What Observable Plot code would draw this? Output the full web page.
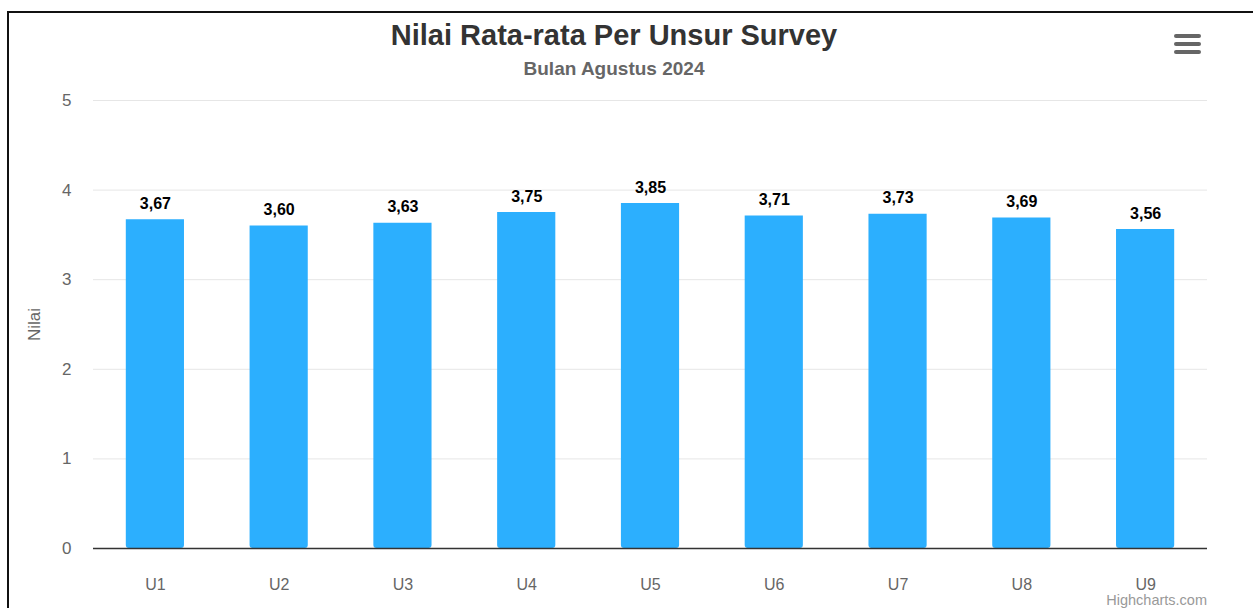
<!DOCTYPE html>
<html>
<head>
<meta charset="utf-8">
<script src="https://cdn.jsdelivr.net/npm/d3@7"></script>
<script src="https://cdn.jsdelivr.net/npm/@observablehq/plot@0.6"></script>
<style>
  html, body { margin: 0; padding: 0; background: #fff; }
  body { font-family: "Liberation Sans", Arial, Helvetica, sans-serif; }
  #wrap { position: relative; width: 1253px; height: 608px; overflow: hidden; background: #fff; }
  #frame { position: absolute; left: 7px; top: 11px; width: 1300px; height: 700px;
           border-left: 2px solid #111; border-top: 2px solid #111; }
  #header { position: relative; height: 88px; }
  #title { position: absolute; left: 0; width: 1228px; top: 21px; text-align: center;
           font-size: 29px; line-height: 29px; font-weight: bold; color: #333; white-space: nowrap; }
  #subtitle { position: absolute; left: 0; width: 1228px; top: 59px; text-align: center;
              font-size: 19px; line-height: 19px; font-weight: bold; color: #666; white-space: nowrap; }
  .menu { position: absolute; left: 1174px; width: 27px; height: 4px; border-radius: 2px; background: #666; }
  #credit { position: absolute; right: 46px; top: 592px; font-size: 14.5px; line-height: 17px; color: #999; white-space: nowrap; }
  #chart { position: absolute; left: 0; top: 88px; }
</style>
</head>
<body>
<div id="wrap">
  <div id="frame"></div>
  <div id="header">
    <div id="title">Nilai Rata-rata Per Unsur Survey</div>
    <div id="subtitle">Bulan Agustus 2024</div>
  </div>
  <div class="menu" style="top:34px"></div>
  <div class="menu" style="top:42px"></div>
  <div class="menu" style="top:50px"></div>
  <div id="chart"></div>
  <div id="credit">Highcharts.com</div>
</div>
<script>
const categories = ["U1", "U2", "U3", "U4", "U5", "U6", "U7", "U8", "U9"];
const values = [3.67, 3.60, 3.63, 3.75, 3.85, 3.71, 3.73, 3.69, 3.56];
const yTicks = [0, 1, 2, 3, 4, 5];
const gridTicks = [1, 2, 3, 4, 5];
const yLabel = "Nilai";

const data = categories.map((c, i) => ({unsur: c, nilai: values[i]}));
const fmt = v => d3.format(".2f")(v).replace(".", ",");

const chart = Plot.plot({
  width: 1253,
  height: 520,
  marginTop: 12,
  marginBottom: 60,
  marginLeft: 93,
  marginRight: 46,
  style: {
    fontFamily: '"Liberation Sans", Arial, Helvetica, sans-serif',
    fontSize: "16px",
    color: "#666",
    background: "transparent",
    overflow: "visible"
  },
  x: {domain: categories, paddingInner: 0.53, paddingOuter: 0.265, round: false},
  y: {domain: [0, 5]},
  marks: [
    Plot.ruleY(gridTicks, {stroke: "#e6e6e6", strokeWidth: 1}),
    Plot.barY(data, {x: "unsur", y: "nilai", fill: "#2caffe", ry2: 3}),
    Plot.ruleY([0], {stroke: "#333", strokeWidth: 1.3}),
    Plot.text(data, {
      x: "unsur", y: "nilai", text: d => fmt(d.nilai), dy: -16,
      fill: "#000", stroke: "#fff", strokeWidth: 1, paintOrder: "stroke",
      fontWeight: "bold", fontSize: 16
    }),
    Plot.axisY({ticks: yTicks, tickSize: 0, tickPadding: 22, tickFormat: d => String(d),
      label: yLabel, labelAnchor: "center", labelArrow: false, labelOffset: 66, fontSize: 17}),
    Plot.axisX({tickSize: 0, tickPadding: 30, label: null})
  ]
});
document.getElementById("chart").appendChild(chart);
</script>
</body>
</html>
